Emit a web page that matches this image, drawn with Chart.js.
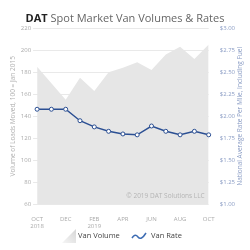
<!DOCTYPE html>
<html>
<head>
<meta charset="utf-8">
<script src="https://cdn.jsdelivr.net/npm/chart.js@4"></script>
<style>
  html, body { margin: 0; padding: 0; background: #fff; }
  #wrap { width: 250px; height: 250px; position: relative; }
</style>
</head>
<body>
<div id="wrap"><canvas id="chartVanMarket" width="250" height="250"></canvas></div>
<script>
const months = ['OCT 2018', 'NOV', 'DEC', 'JAN', 'FEB 2019', 'MAR', 'APR', 'MAY', 'JUN', 'JUL', 'AUG', 'SEP', 'OCT'];
const tickLabels = [['OCT', '2018'], '', 'DEC', '', ['FEB', '2019'], '', 'APR', '', 'JUN', '', 'AUG', '', 'OCT'];
const vanVolume = [185, 170, 155, 175, 163, 180, 184, 189, 182, 196, 203, 192, 205];
const vanRate = [2.08, 2.08, 2.08, 1.95, 1.88, 1.83, 1.80, 1.79, 1.89, 1.83, 1.79, 1.83, 1.79];

const fontName = "'Open Sans', 'DejaVu Sans', sans-serif";

const extraText = {
    id: 'extraText',
    afterDraw(chart) {
        const ctx = chart.ctx;
        const area = chart.chartArea;
        ctx.save();
        // title, bold "DAT" then normal text
        ctx.textBaseline = 'middle';
        ctx.font = 'bold 11px ' + fontName;
        const boldPart = 'DAT ';
        const rest = 'Spot Market Van Volumes & Rates';
        const w1 = ctx.measureText(boldPart).width;
        ctx.font = '11px ' + fontName;
        const w2 = ctx.measureText(rest).width;
        let x = 125 - (w1 + w2) / 2;
        ctx.font = 'bold 11px ' + fontName;
        ctx.fillStyle = '#222';
        ctx.fillText(boldPart, x, 19);
        ctx.font = '11px ' + fontName;
        ctx.fillStyle = '#666';
        ctx.fillText(rest, x + w1, 19);

        // legend
        const ly = 236;
        const grad = ctx.createLinearGradient(62, 243, 76, 229);
        grad.addColorStop(0, '#f6f6f6');
        grad.addColorStop(1, '#d6d6d6');
        ctx.fillStyle = grad;
        ctx.beginPath();
        ctx.moveTo(62, 243); ctx.lineTo(76, 229); ctx.lineTo(76, 243); ctx.closePath();
        ctx.fill();
        ctx.font = '7.5px ' + fontName;
        ctx.fillStyle = '#444';
        ctx.fillText('Van Volume', 78, ly);

        ctx.strokeStyle = '#3d6cb3';
        ctx.lineWidth = 1.5;
        ctx.beginPath();
        ctx.moveTo(132, 238);
        ctx.quadraticCurveTo(135, 233, 138, 237);
        ctx.quadraticCurveTo(141, 241, 146, 233);
        ctx.stroke();
        ctx.fillText('Van Rate', 151, ly);

        // right axis title, reading bottom to top
        ctx.translate(240, (area.top + area.bottom) / 2);
        ctx.rotate(-Math.PI / 2);
        ctx.textAlign = 'center';
        ctx.font = '6.5px ' + fontName;
        ctx.fillStyle = '#8a9cc4';
        ctx.fillText('National Average Rate Per Mile, Including Fuel', 0, 0);
        ctx.restore();
    },
    afterDatasetsDraw(chart) {
        const ctx = chart.ctx;
        const area = chart.chartArea;
        ctx.save();
        ctx.font = '6.5px ' + fontName;
        ctx.fillStyle = '#b4b4b4';
        ctx.textAlign = 'right';
        ctx.textBaseline = 'middle';
        ctx.fillText('© 2019 DAT Solutions LLC', area.right - 4, area.bottom - 8);
        ctx.restore();
    }
};

const ctx = document.getElementById('chartVanMarket').getContext('2d');
new Chart(ctx, {
    data: {
        labels: months,
        datasets: [{
            type: 'line',
            label: 'Van Rate',
            data: vanRate,
            yAxisID: 'yRate',
            borderColor: '#2b4f93',
            borderWidth: 1.5,
            pointRadius: 2,
            pointBackgroundColor: '#ffffff',
            pointBorderColor: '#2b4f93',
            pointBorderWidth: 1,
            tension: 0,
            fill: false,
            order: 1
        }, {
            type: 'line',
            label: 'Van Volume',
            data: vanVolume,
            yAxisID: 'yVol',
            borderWidth: 0,
            borderColor: 'rgba(0,0,0,0)',
            backgroundColor: '#e6e6e6',
            pointRadius: 0,
            tension: 0,
            fill: 'start',
            order: 2
        }]
    },
    options: {
        responsive: false,
        animation: false,
        layout: { padding: { top: 28, left: 7, right: 12, bottom: 17 } },
        plugins: {
            title: { display: false },
            tooltip: { enabled: false },
            legend: { display: false }
        },
        scales: {
            x: {
                offset: false,
                grid: { display: false },
                border: { display: false },
                ticks: {
                    autoSkip: false,
                    maxRotation: 0,
                    padding: 3,
                    color: '#aaa',
                    font: { size: 6, family: fontName },
                    callback: function(value, index) {
                        return tickLabels[index];
                    }
                }
            },
            yVol: {
                position: 'left',
                min: 60,
                max: 220,
                grid: { color: '#e9e9e9', drawTicks: true, tickLength: 4 },
                border: { display: false },
                ticks: {
                    stepSize: 20,
                    padding: 2,
                    color: '#aaa',
                    font: { size: 6, family: fontName }
                },
                title: {
                    display: true,
                    text: 'Volume of Loads Moved, 100 = Jan 2015',
                    color: '#b0b0b0',
                    font: { size: 6.5, family: fontName },
                    padding: 2
                }
            },
            yRate: {
                position: 'right',
                min: 1,
                max: 3,
                grid: { display: false, drawTicks: true },
                border: { display: false },
                ticks: {
                    stepSize: 0.25,
                    padding: 3,
                    color: '#8a9cc4',
                    font: { size: 6, family: fontName },
                    callback: function(value) {
                        return '$' + value.toFixed(2);
                    }
                }
            }
        }
    },
    plugins: [extraText]
});
</script>
</body>
</html>
